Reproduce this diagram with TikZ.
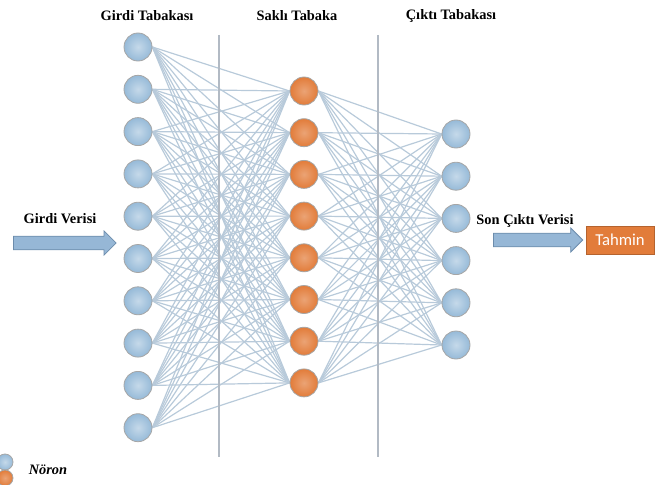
\documentclass[tikz,border=0pt]{standalone}
\usepackage{fontspec}
\setmainfont{Liberation Serif}
\newfontfamily\calibrifont{Carlito}
\usetikzlibrary{backgrounds,shapes.arrows}
\definecolor{neuronblue}{RGB}{150, 186, 216}
\definecolor{neuronorange}{RGB}{226, 124, 58}
\definecolor{edgeblue}{RGB}{184, 202, 218}
\definecolor{divider}{RGB}{178, 186, 196}
\definecolor{arrowblue}{RGB}{150, 183, 214}
\definecolor{arrowedge}{RGB}{108, 140, 172}

\tikzset{
  neuron/.style={circle, minimum size=21pt, inner sep=0pt, draw=gray!70, line width=0.6pt},
  bluenode/.style={neuron, inner color=neuronblue!55, outer color=neuronblue},
  orangenode/.style={neuron, inner color=neuronorange!70!white, outer color=neuronorange},
  conn/.style={draw=edgeblue, line width=0.9pt},
  layertitle/.style={font=\fontsize{10.8}{13}\selectfont\bfseries},
  bigarrow/.style={single arrow, draw=arrowedge, fill=arrowblue, line width=0.6pt,
    single arrow head extend=3.9pt, inner xsep=0pt, inner ysep=4.8pt, minimum height=#1}
}

\begin{document}
\begin{tikzpicture}[x=0.75pt, y=-0.75pt]
  \useasboundingbox (0, 0) rectangle (657, 485);

  % katman basliklari
  \node[layertitle] (tIn) at (147, 16) {Girdi Tabakası};
  \node[layertitle] (tHid) at (297, 16) {Saklı Tabaka};
  \node[layertitle] (tOut) at (451, 16) {Çıktı Tabakası};

  % ayirici cizgiler
  \coordinate (d1a) at (219, 35);
  \coordinate (d1b) at (219, 457);
  \coordinate (d2a) at (378, 35);
  \coordinate (d2b) at (378, 457);
  \draw[divider, line width=1pt] (d1a) -- (d1b);
  \draw[divider, line width=1pt] (d2a) -- (d2b);

  % noronlar
  \foreach \i in {1,...,10}
    \node[bluenode] (in\i) at (138, {47 + 42.3*(\i-1)}) {};
  \foreach \j in {1,...,8}
    \node[orangenode] (hid\j) at (304, {91 + 41.7*(\j-1)}) {};
  \foreach \k in {1,...,6}
    \node[bluenode] (out\k) at (456, {134 + 42.2*(\k-1)}) {};

  % baglantilar
  \begin{scope}[on background layer]
    \foreach \i in {1,...,10}
      \foreach \j in {1,...,8}
        \draw[conn] (in\i.east) -- (hid\j.west);
    \foreach \j in {1,...,8}
      \foreach \k in {1,...,6}
        \draw[conn] (hid\j.east) -- (out\k.west);
  \end{scope}

  % girdi ve cikti
  \node[layertitle] (inText) at (60, 219) {Girdi Verisi};
  \node[bigarrow=77pt, anchor=west] (inArrow) at (13, 243) {};
  \node[layertitle] (outText) at (525, 221) {Son Çıktı Verisi};
  \node[bigarrow=67pt, anchor=west] (outArrow) at (493, 240) {};
  \node[fill=neuronorange, draw=neuronorange!80!black, line width=0.4pt,
    minimum width=51pt, minimum height=21pt, inner sep=0pt,
    text=white, font=\calibrifont\fontsize{12.5}{14}\selectfont] (pred) at (620, 240) {Tahmin};

  % gosterim
  \node[bluenode, minimum size=12pt] (legBlue) at (5, 462) {};
  \node[orangenode, minimum size=12pt] (legOrange) at (5, 478) {};
  \node[font=\fontsize{10.8}{13}\selectfont\bfseries\itshape] (legText) at (48, 470) {Nöron};
\end{tikzpicture}
\end{document}
